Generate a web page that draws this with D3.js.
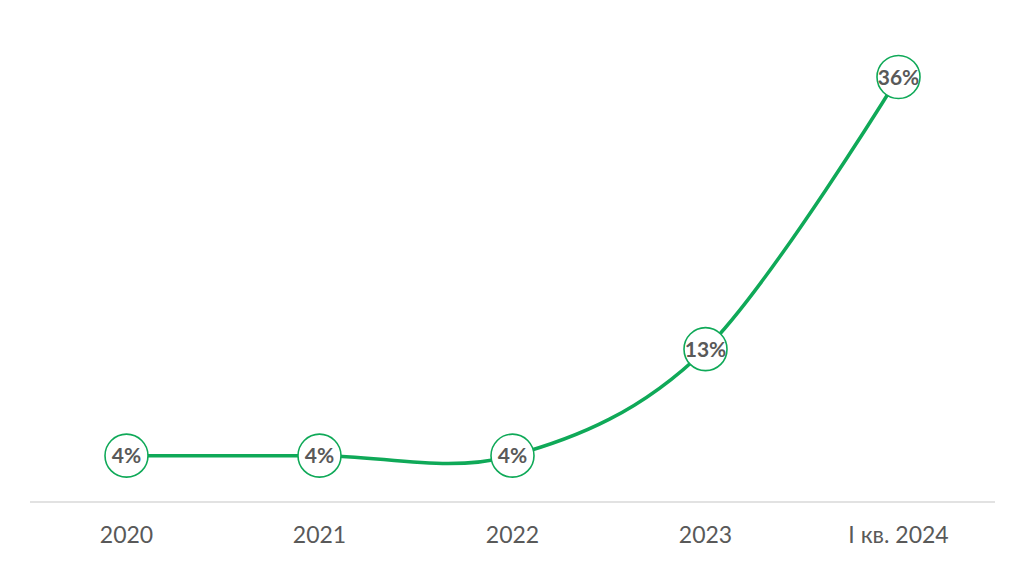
<!DOCTYPE html>
<html>
<head>
<meta charset="utf-8">
<script src="https://cdn.jsdelivr.net/npm/d3@7"></script>
<style>
  body { margin: 0; background: #fff; }
  svg { display: block; font-family: Lato, "Open Sans", sans-serif; }
</style>
</head>
<body>
<svg id="chart" width="1024" height="569"></svg>
<script>
var categories = ["2020", "2021", "2022", "2023", "І кв. 2024"];
var values = [4, 4, 4, 13, 36];
var labels = ["4%", "4%", "4%", "13%", "36%"];

var svg = d3.select("#chart");

var x = d3.scaleBand()
    .domain(categories)
    .range([30, 995]);

var y = d3.scaleLinear()
    .domain([0, 36])
    .range([503, 77]);

var cx = function(d, i) { return x(categories[i]) + x.bandwidth() / 2; };

// baseline
svg.append("line")
    .attr("x1", 30).attr("x2", 995)
    .attr("y1", 502).attr("y2", 502)
    .attr("stroke", "#d9d9d9")
    .attr("stroke-width", 1.3);

var xAxis = d3.axisBottom(x).tickSize(0).tickPadding(0);
var ax = svg.append("g")
    .attr("transform", "translate(0,527)")
    .call(xAxis);
ax.select(".domain").remove();
ax.selectAll("text")
    .attr("font-size", 23)
    .attr("fill", "#595959")
    .attr("font-family", "Lato, 'Open Sans', sans-serif");

var line = d3.line()
    .x(cx)
    .y(function(d) { return y(d); })
    .curve(d3.curveCatmullRom.alpha(0));

svg.append("path")
    .datum(values)
    .attr("d", line)
    .attr("fill", "none")
    .attr("stroke", "#0fa958")
    .attr("stroke-width", 3.5);

var pts = svg.selectAll(".pt").data(values).enter().append("g")
    .attr("class", "pt")
    .attr("transform", function(d, i) { return "translate(" + cx(d, i) + "," + y(d) + ")"; });

pts.append("circle")
    .attr("r", 21.5)
    .attr("fill", "#fff")
    .attr("stroke", "#0fa958")
    .attr("stroke-width", 1.6);

pts.append("text")
    .attr("text-anchor", "middle")
    .attr("dy", "0.36em")
    .attr("font-size", 21)
    .attr("font-weight", "bold")
    .attr("fill", "#595959")
    .text(function(d, i) { return labels[i]; });
</script>
</body>
</html>
